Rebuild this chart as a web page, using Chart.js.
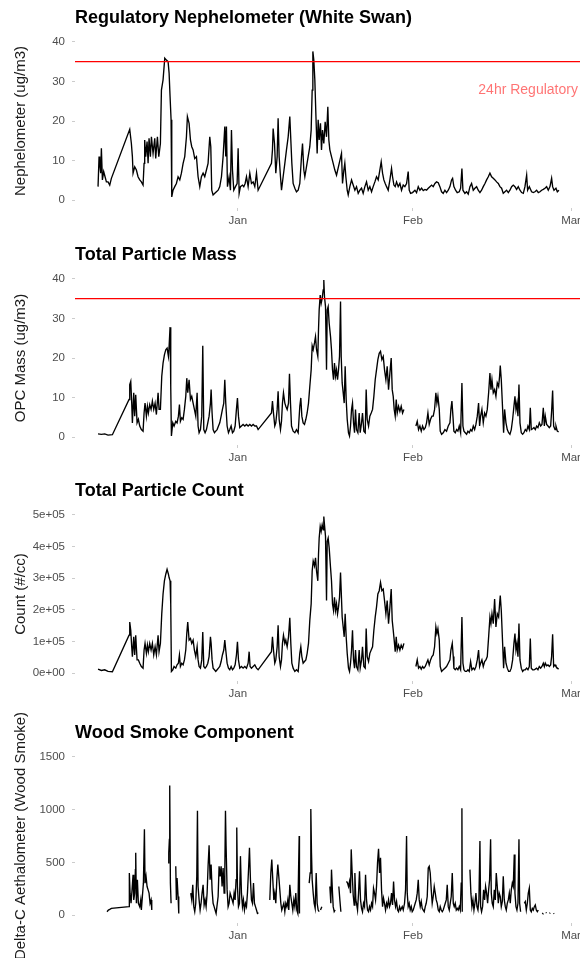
<!DOCTYPE html>
<html>
<head>
<meta charset="utf-8">
<script src="https://cdn.jsdelivr.net/npm/chart.js@4.4.1/dist/chart.umd.min.js"></script>
<style>
  html, body { margin: 0; padding: 0; background: #fff; overflow: hidden; width: 580px; height: 958px; }
  canvas { position: absolute; left: 0; }
</style>
</head>
<body>
<canvas id="neph" width="600" height="238" style="top:0px"></canvas>
<canvas id="mass" width="600" height="238" style="top:237px"></canvas>
<canvas id="count" width="600" height="238" style="top:473px"></canvas>
<canvas id="wood" width="600" height="258" style="top:700px"></canvas>
<script>
// days are counted from 1 Jan (0 = Jan 1)
const monthTicks = [0, 31, 59];
const monthLabels = ['Jan', 'Feb', 'Mar'];
const pmTicks = [0, 10, 20, 30, 40];
const countTicks = [0, 100000, 200000, 300000, 400000, 500000];
const woodTicks = [0, 500, 1000, 1500];
const regulatoryLimit = 35;
const limitNote = { day: 51.4, value: 27.8, text: '24hr Regulatory' };

const nephelometer = [[-24.74,3.4],[-24.56,11.0],[-24.45,9.3],[-24.27,6.8],[-24.15,13.1],[-23.97,5.1],[-23.74,7.2],[-23.50,5.9],[-23.26,4.6],[-22.97,4.6],[-22.67,3.8],[-22.38,5.5],[-19.13,17.9],[-18.84,14.3],[-18.66,11.0],[-18.54,6.8],[-18.25,8.4],[-17.95,7.6],[-17.66,5.9],[-17.36,5.1],[-17.07,4.6],[-16.77,3.8],[-16.59,9.3],[-16.48,15.2],[-16.30,11.0],[-16.06,14.8],[-15.88,9.3],[-15.71,15.6],[-15.47,11.0],[-15.29,16.0],[-15.00,11.8],[-14.70,15.6],[-14.53,10.5],[-14.23,16.0],[-13.99,11.0],[-13.70,14.3],[-13.52,27.8],[-13.23,30.4],[-12.93,35.9],[-12.64,35.4],[-12.34,35.0],[-12.16,32.1],[-11.99,26.2],[-11.81,20.3],[-11.69,0.8],[-11.46,2.5],[-11.16,3.4],[-10.87,4.2],[-10.57,5.9],[-10.27,5.1],[-9.98,6.8],[-9.68,9.3],[-9.39,11.0],[-9.09,16.0],[-8.92,21.1],[-8.62,19.4],[-8.38,15.2],[-8.15,13.5],[-7.91,12.7],[-7.62,10.5],[-7.32,11.0],[-7.03,5.9],[-6.73,3.4],[-6.44,5.9],[-6.14,6.8],[-5.85,5.9],[-5.55,7.6],[-5.26,9.3],[-4.96,16.0],[-4.78,13.5],[-4.61,2.5],[-4.37,1.3],[-4.07,1.7],[-3.78,2.1],[-3.48,2.5],[-3.19,3.4],[-2.89,5.9],[-2.60,11.0],[-2.30,18.6],[-2.13,11.0],[-2.01,18.6],[-1.83,3.4],[-1.54,5.9],[-1.30,2.5],[-1.12,17.7],[-0.94,7.6],[-0.71,2.5],[-0.41,3.4],[-0.12,4.2],[0.06,13.1],[0.24,1.7],[0.47,3.4],[0.83,3.8],[1.06,3.4],[1.30,4.2],[1.54,5.9],[1.83,3.4],[2.13,6.8],[2.42,4.2],[2.72,4.6],[3.01,3.4],[3.31,6.8],[3.60,2.5],[5.96,9.3],[6.14,12.7],[6.26,18.1],[6.50,14.3],[6.73,6.8],[6.97,11.0],[7.14,20.7],[7.32,11.0],[7.56,5.9],[7.74,2.5],[8.03,5.9],[8.33,9.3],[8.62,12.7],[8.92,16.0],[9.21,21.1],[9.39,15.2],[9.57,9.3],[9.80,4.2],[10.10,3.0],[10.39,2.1],[10.69,2.5],[10.98,4.2],[11.28,11.0],[11.46,14.3],[11.69,7.6],[11.87,5.9],[12.16,8.4],[12.46,11.0],[12.75,13.5],[12.99,17.7],[13.17,27.8],[13.29,37.6],[13.46,35.4],[13.64,30.4],[13.82,21.9],[14.05,11.8],[14.23,20.3],[14.41,15.2],[14.64,19.4],[14.82,12.7],[15.00,17.7],[15.23,14.3],[15.47,19.8],[15.71,16.0],[15.94,23.6],[16.12,15.2],[16.30,12.7],[16.59,11.0],[16.89,9.3],[17.18,7.6],[17.48,6.3],[18.36,11.8],[18.54,4.2],[18.78,7.6],[18.95,9.3],[19.13,5.9],[19.37,2.5],[19.55,1.3],[19.84,3.4],[20.14,5.1],[20.43,3.8],[20.73,2.5],[21.02,3.4],[21.32,1.7],[21.61,2.5],[21.91,3.0],[22.20,1.7],[22.50,3.4],[22.79,4.6],[23.09,2.5],[23.38,3.4],[23.68,2.1],[23.97,3.4],[24.27,4.6],[24.56,5.9],[24.86,5.1],[25.15,7.6],[25.39,9.7],[25.63,6.8],[25.86,5.1],[26.10,4.2],[26.34,3.4],[26.63,2.5],[26.93,5.1],[27.22,8.0],[27.40,5.9],[27.64,3.8],[27.87,3.4],[28.11,4.6],[28.40,3.4],[28.70,4.2],[28.99,2.5],[29.29,3.8],[29.58,3.4],[29.88,4.2],[30.17,7.2],[30.35,2.5],[30.59,1.7],[30.94,1.9],[31.36,2.5],[31.65,1.9],[31.95,3.4],[32.24,2.5],[32.54,3.0],[32.83,2.4],[33.13,2.7],[33.42,2.5],[33.72,3.0],[34.01,3.4],[34.31,3.8],[34.60,3.4],[34.90,4.2],[35.19,4.6],[35.49,4.4],[35.78,3.4],[36.08,2.1],[36.37,1.7],[36.67,2.5],[36.96,1.9],[37.26,2.5],[37.56,3.4],[37.85,5.1],[38.03,5.5],[38.26,3.4],[38.56,2.5],[38.85,1.9],[39.21,2.1],[39.45,3.0],[39.68,8.0],[39.86,2.5],[40.21,1.7],[40.51,2.1],[40.80,1.5],[41.10,3.4],[41.39,4.2],[41.69,2.5],[41.98,3.0],[42.28,3.4],[42.57,2.5],[42.87,1.9],[43.16,2.5],[43.46,3.4],[43.76,4.2],[44.05,5.1],[44.35,5.9],[44.64,6.8],[44.94,5.9],[45.23,5.5],[45.53,5.1],[45.82,4.6],[46.12,4.2],[46.41,3.4],[46.71,3.0],[47.00,1.7],[47.30,2.1],[47.59,2.5],[47.89,1.9],[48.18,2.5],[48.48,3.4],[48.77,3.8],[49.07,3.4],[49.36,2.7],[49.66,3.4],[49.96,2.5],[50.25,1.9],[50.55,1.7],[50.84,3.4],[51.14,6.3],[51.31,2.5],[51.61,3.4],[52.02,2.1],[52.32,1.9],[52.61,2.1],[52.91,2.5],[53.20,1.9],[53.50,2.1],[53.79,2.5],[54.09,2.7],[54.38,3.0],[54.68,3.4],[54.97,2.5],[55.27,3.4],[55.56,5.5],[55.74,3.4],[55.98,2.5],[56.33,3.0],[56.57,2.1],[56.86,2.5]];

const opcMass = [[-24.74,0.8],[-24.15,0.7],[-23.56,0.8],[-22.97,0.5],[-22.20,0.6],[-19.25,9.5],[-19.13,13.3],[-18.95,14.1],[-18.78,8.6],[-18.66,3.6],[-18.42,11.2],[-18.25,5.3],[-18.07,10.7],[-17.83,3.6],[-17.60,4.5],[-17.36,2.8],[-17.07,1.9],[-16.77,1.5],[-16.59,6.1],[-16.42,8.6],[-16.18,5.3],[-16.00,7.8],[-15.83,6.1],[-15.59,8.2],[-15.35,7.0],[-15.12,9.1],[-14.88,7.0],[-14.64,8.6],[-14.41,5.7],[-14.11,11.2],[-13.94,7.0],[-13.70,7.0],[-13.46,15.4],[-13.23,18.7],[-12.99,20.8],[-12.75,22.1],[-12.52,22.5],[-12.28,20.4],[-12.16,22.9],[-11.99,27.8],[-11.87,12.8],[-11.75,0.3],[-11.51,3.6],[-11.28,2.8],[-10.98,4.0],[-10.75,3.6],[-10.51,5.3],[-10.33,8.2],[-10.16,4.0],[-9.92,4.9],[-9.68,4.5],[-9.45,7.0],[-9.21,10.3],[-9.03,14.9],[-8.86,11.2],[-8.62,14.5],[-8.38,9.5],[-8.15,10.3],[-7.91,8.6],[-7.68,7.0],[-7.44,5.3],[-7.20,11.2],[-7.03,2.8],[-6.85,1.1],[-6.61,1.9],[-6.38,5.3],[-6.20,23.1],[-6.02,1.9],[-5.79,1.1],[-5.55,1.9],[-5.31,3.6],[-5.08,5.3],[-4.84,8.6],[-4.72,12.0],[-4.55,6.1],[-4.37,1.9],[-4.13,1.1],[-3.90,1.5],[-3.66,1.9],[-3.42,2.8],[-3.19,3.6],[-2.95,5.3],[-2.72,7.0],[-2.48,8.6],[-2.30,14.5],[-2.13,8.6],[-1.89,2.8],[-1.65,1.1],[-1.42,1.9],[-1.18,2.8],[-0.94,1.1],[-0.71,1.5],[-0.47,2.8],[-0.24,7.0],[-0.06,9.9],[0.12,5.3],[0.35,2.4],[0.65,2.8],[0.94,3.2],[1.24,2.8],[1.54,3.2],[1.83,2.8],[2.13,3.2],[2.42,2.8],[2.72,3.2],[3.01,2.8],[3.31,2.8],[3.60,1.9],[5.96,6.1],[6.14,9.1],[6.32,6.1],[6.55,2.8],[6.73,3.6],[6.97,7.0],[7.14,11.6],[7.32,4.5],[7.56,1.9],[7.74,4.0],[7.91,8.6],[8.09,11.2],[8.33,8.6],[8.50,7.8],[8.74,7.0],[8.98,8.6],[9.15,16.0],[9.33,8.6],[9.51,2.8],[9.80,1.5],[10.10,1.1],[10.39,1.9],[10.69,1.1],[10.98,7.8],[11.16,9.9],[11.34,5.3],[11.57,3.6],[11.81,3.2],[12.05,4.5],[12.28,6.1],[12.52,8.6],[12.75,12.8],[12.99,17.0],[13.17,23.1],[13.35,22.1],[13.58,23.8],[13.76,25.4],[13.94,22.1],[14.17,20.4],[14.29,27.1],[14.41,32.2],[14.59,35.9],[14.76,33.8],[14.94,35.1],[15.12,37.2],[15.23,39.7],[15.35,35.5],[15.53,33.0],[15.71,17.0],[15.83,32.2],[16.00,33.0],[16.18,28.8],[16.42,25.4],[16.59,22.1],[16.77,17.0],[16.95,14.5],[17.12,18.7],[17.30,15.4],[17.48,17.0],[17.66,14.5],[17.83,17.0],[18.01,20.4],[18.19,34.3],[18.31,20.4],[18.48,13.7],[18.66,11.2],[18.84,8.6],[19.01,17.9],[19.19,9.5],[19.37,4.5],[19.60,1.1],[19.78,0.3],[19.96,2.8],[20.14,7.0],[20.31,8.6],[20.49,3.6],[20.67,1.1],[20.84,7.0],[21.02,1.9],[21.26,1.1],[21.49,6.1],[21.67,1.1],[21.91,3.6],[22.08,6.1],[22.32,1.5],[22.56,1.1],[22.73,12.0],[22.91,4.5],[23.15,2.8],[23.38,5.3],[23.62,6.1],[23.86,7.0],[24.09,10.3],[24.33,14.5],[24.56,17.0],[24.80,19.6],[25.04,21.2],[25.27,21.7],[25.51,19.6],[25.75,20.4],[25.98,17.0],[26.22,14.5],[26.45,17.9],[26.69,12.0],[26.93,16.2],[27.16,20.0],[27.34,12.0],[27.52,10.3],[27.69,7.0],[27.87,5.3],[28.05,9.5],[28.23,6.1],[28.46,7.8],[28.70,6.5],[28.93,7.8],[29.17,6.1],[29.41,7.0],[30.40,null],[31.53,2.8],[31.77,4.0],[32.00,1.9],[32.24,2.8],[32.48,1.5],[32.71,2.8],[32.95,1.9],[33.19,2.4],[33.42,3.6],[33.66,6.1],[33.89,3.2],[34.13,4.5],[34.37,5.3],[34.60,5.3],[34.84,7.0],[35.07,11.2],[35.25,8.6],[35.43,10.3],[35.67,7.0],[35.84,1.5],[36.08,0.7],[36.37,1.1],[36.67,1.9],[36.96,1.5],[37.26,2.8],[37.56,3.6],[37.73,7.0],[37.91,9.1],[38.09,5.3],[38.26,1.5],[38.50,1.1],[38.74,1.9],[38.97,1.5],[39.21,2.8],[39.45,1.1],[39.68,13.7],[39.86,2.8],[40.04,1.5],[40.27,1.1],[40.51,0.7],[40.74,1.5],[40.98,1.1],[41.22,1.9],[41.45,1.5],[41.69,2.8],[41.93,1.9],[42.16,3.2],[42.40,5.3],[42.63,8.6],[42.81,2.8],[42.99,5.3],[43.22,7.0],[43.46,3.6],[43.70,6.1],[43.93,5.3],[44.17,7.0],[44.41,11.2],[44.64,16.2],[44.82,12.0],[45.00,14.5],[45.23,11.2],[45.47,12.0],[45.70,10.3],[45.94,13.7],[46.18,12.8],[46.35,15.4],[46.47,18.1],[46.65,14.5],[46.89,7.0],[47.06,1.1],[47.24,7.0],[47.48,3.6],[47.71,1.9],[47.95,1.1],[48.18,0.7],[48.42,1.9],[48.66,4.5],[48.89,7.8],[49.07,10.3],[49.25,7.0],[49.42,8.6],[49.60,5.3],[49.78,13.3],[49.96,3.6],[50.19,1.1],[50.43,0.7],[50.66,1.1],[50.90,1.9],[51.14,1.5],[51.37,2.8],[51.61,1.9],[51.79,7.4],[51.96,1.9],[52.20,2.1],[52.44,2.4],[52.67,1.9],[52.91,2.8],[53.14,2.4],[53.38,3.6],[53.62,2.8],[53.85,3.2],[54.09,7.4],[54.27,2.8],[54.44,5.3],[54.68,3.2],[54.92,2.8],[55.15,2.4],[55.39,2.8],[55.56,6.5],[55.74,11.8],[55.92,2.8],[56.16,1.9],[56.33,2.8],[56.57,1.5],[56.80,1.3]];

const particleCount = [[-24.74,12500],[-24.15,8300],[-23.56,10400],[-22.97,5200],[-22.20,4200],[-19.25,119800],[-19.13,161500],[-18.95,135400],[-18.78,83300],[-18.66,52100],[-18.42,114600],[-18.25,57300],[-18.07,119800],[-17.83,41700],[-17.60,41700],[-17.36,31300],[-17.07,20800],[-16.77,15600],[-16.59,72900],[-16.42,93800],[-16.18,62500],[-16.00,88500],[-15.83,67700],[-15.59,93800],[-15.35,72900],[-15.12,93800],[-14.88,57300],[-14.64,83300],[-14.41,57300],[-14.11,119800],[-13.94,67700],[-13.70,93800],[-13.46,187500],[-13.23,250000],[-12.99,291700],[-12.75,312500],[-12.52,328100],[-12.28,312500],[-12.16,302100],[-11.99,291700],[-11.87,218800],[-11.75,5200],[-11.51,10400],[-11.28,20800],[-10.98,15600],[-10.75,26000],[-10.51,31300],[-10.33,57300],[-10.16,20800],[-9.92,31300],[-9.68,26000],[-9.45,41700],[-9.21,72900],[-9.03,125000],[-8.86,161500],[-8.62,104200],[-8.38,109400],[-8.15,93800],[-7.91,104200],[-7.68,72900],[-7.44,52100],[-7.20,83300],[-7.03,41700],[-6.85,20800],[-6.61,15600],[-6.38,41700],[-6.20,130200],[-6.02,20800],[-5.79,15600],[-5.55,20800],[-5.31,31300],[-5.08,52100],[-4.84,114600],[-4.72,93800],[-4.55,41700],[-4.37,15600],[-4.13,10400],[-3.90,5200],[-3.66,10400],[-3.42,15600],[-3.19,20800],[-2.95,36500],[-2.72,57300],[-2.48,72900],[-2.30,104200],[-2.13,72900],[-1.89,31300],[-1.65,15600],[-1.42,10400],[-1.18,20800],[-0.94,10400],[-0.71,15600],[-0.47,26000],[-0.24,57300],[-0.06,99000],[0.12,41700],[0.35,15600],[0.65,20800],[0.94,15600],[1.24,20800],[1.54,15600],[1.83,31300],[2.01,67700],[2.18,20800],[2.42,15600],[2.72,20800],[3.01,26000],[3.31,15600],[3.60,10400],[5.96,67700],[6.14,114600],[6.32,72900],[6.55,31300],[6.73,41700],[6.97,83300],[7.14,151000],[7.32,52100],[7.56,20800],[7.74,41700],[7.91,93800],[8.09,119800],[8.33,93800],[8.50,104200],[8.74,83300],[8.98,114600],[9.21,175000],[9.39,93800],[9.57,31300],[9.80,15600],[10.10,5200],[10.39,10400],[10.69,5200],[10.98,62500],[11.16,83300],[11.34,52100],[11.57,31300],[11.81,36500],[12.05,41700],[12.28,62500],[12.52,93800],[12.75,166700],[12.99,218800],[13.17,322900],[13.35,354200],[13.58,338500],[13.76,364600],[13.94,322900],[14.17,291700],[14.29,375000],[14.41,427100],[14.59,463500],[14.76,447900],[14.94,468800],[15.12,453100],[15.23,494800],[15.35,468800],[15.53,432300],[15.71,229200],[15.83,416700],[16.00,427100],[16.18,395800],[16.42,333300],[16.59,291700],[16.77,218800],[16.95,197900],[17.12,239600],[17.30,197900],[17.48,218800],[17.66,187500],[17.83,208300],[18.01,239600],[18.19,317700],[18.31,260400],[18.48,177100],[18.66,145800],[18.84,114600],[19.01,187500],[19.19,114600],[19.37,62500],[19.60,15600],[19.78,5200],[19.96,31300],[20.14,72900],[20.31,135400],[20.49,41700],[20.67,15600],[20.84,72900],[21.02,20800],[21.26,10400],[21.49,72900],[21.67,15600],[21.91,41700],[22.08,83300],[22.32,20800],[22.56,15600],[22.73,140600],[22.91,52100],[23.15,36500],[23.38,62500],[23.62,72900],[23.86,83300],[24.09,135400],[24.33,177100],[24.56,208300],[24.80,250000],[25.04,260400],[25.27,286500],[25.51,260400],[25.75,265600],[25.98,229200],[26.22,187500],[26.45,229200],[26.69,156300],[26.93,208300],[27.16,265600],[27.34,166700],[27.52,135400],[27.69,104200],[27.87,67700],[28.05,114600],[28.23,72900],[28.46,88500],[28.70,72900],[28.93,88500],[29.17,78100],[29.41,93800],[30.40,null],[31.53,20800],[31.77,41700],[32.00,15600],[32.24,20800],[32.48,12500],[32.71,20800],[32.95,15600],[33.19,20800],[33.42,31300],[33.66,41700],[33.89,26000],[34.13,41700],[34.37,52100],[34.60,57300],[34.84,83300],[35.07,145800],[35.25,125000],[35.43,140600],[35.67,104200],[35.84,20800],[36.08,5200],[36.37,10400],[36.67,15600],[36.96,20800],[37.26,31300],[37.56,41700],[37.73,72900],[37.97,93800],[38.15,52100],[38.26,15600],[38.50,10400],[38.74,15600],[38.97,10400],[39.21,20800],[39.45,10400],[39.68,177100],[39.86,31300],[40.04,10400],[40.27,5200],[40.51,5200],[40.74,10400],[40.98,5200],[41.22,36500],[41.45,10400],[41.69,15600],[41.93,10400],[42.16,20800],[42.40,41700],[42.63,72900],[42.81,20800],[42.99,31300],[43.22,41700],[43.46,20800],[43.70,36500],[43.93,41700],[44.17,52100],[44.41,114600],[44.64,177100],[44.82,156300],[45.00,187500],[45.23,156300],[45.47,234400],[45.70,145800],[45.94,187500],[46.18,177100],[46.35,218800],[46.47,244800],[46.65,197900],[46.89,93800],[47.06,15600],[47.24,83300],[47.48,31300],[47.71,15600],[47.95,5200],[48.18,5200],[48.42,15600],[48.66,41700],[48.89,93800],[49.07,125000],[49.25,72900],[49.42,93800],[49.60,52100],[49.78,156300],[49.96,41700],[50.19,15600],[50.43,5200],[50.66,10400],[50.90,10400],[51.14,15600],[51.37,10400],[51.61,20800],[51.79,109400],[51.96,15600],[52.20,10400],[52.44,10400],[52.67,12500],[52.91,15600],[53.14,10400],[53.38,20800],[53.62,15600],[53.85,20800],[54.09,31300],[54.27,20800],[54.44,31300],[54.68,22900],[54.92,26000],[55.15,20800],[55.39,26000],[55.56,52100],[55.74,122900],[55.92,20800],[56.16,26000],[56.33,20800],[56.57,15600],[56.80,12500]];

const woodSmoke = [[-23.15,32],[-22.91,48],[-22.67,54],[-22.38,64],[-19.25,80],[-19.20,399],[-19.07,208],[-18.90,112],[-18.72,239],[-18.54,383],[-18.42,144],[-18.25,208],[-18.13,431],[-18.07,591],[-17.95,112],[-17.77,335],[-17.60,112],[-17.36,80],[-17.18,144],[-17.07,48],[-16.89,176],[-16.71,303],[-16.53,814],[-16.42,303],[-16.24,367],[-16.06,271],[-15.88,239],[-15.71,208],[-15.53,112],[-15.35,144],[-15.23,48],[-13.8,null],[-12.34,495],[-12.22,591],[-12.11,718],[-12.05,1229],[-11.93,303],[-11.81,112],[-11.4,null],[-10.98,463],[-10.87,144],[-10.75,351],[-10.57,176],[-10.45,16],[-9.4,null],[-8.33,208],[-8.15,144],[-7.97,287],[-7.79,80],[-7.62,32],[-7.44,112],[-7.26,367],[-7.14,990],[-7.03,271],[-6.85,144],[-6.67,48],[-6.50,112],[-6.32,208],[-6.14,287],[-5.96,96],[-5.79,144],[-5.61,80],[-5.43,208],[-5.26,463],[-5.08,661],[-4.90,335],[-4.72,479],[-4.55,239],[-4.37,112],[-4.19,80],[-4.02,48],[-3.84,16],[-3.48,176],[-3.31,463],[-3.13,367],[-2.95,463],[-2.78,271],[-2.60,447],[-2.42,208],[-2.30,399],[-2.18,990],[-2.07,655],[-1.89,239],[-1.71,80],[-1.54,112],[-1.36,208],[-1.18,176],[-1.00,144],[-0.83,112],[-0.65,208],[-0.47,144],[-0.30,335],[-0.18,830],[-0.06,271],[0.12,80],[0.30,112],[0.47,559],[0.65,208],[0.83,80],[1.00,144],[1.18,48],[1.36,112],[1.54,80],[1.71,208],[1.89,415],[2.07,639],[2.24,335],[2.42,144],[2.60,112],[2.78,303],[2.95,112],[3.13,80],[3.31,48],[3.48,16],[3.66,22],[4.6,null],[5.67,144],[5.85,399],[6.02,527],[6.20,335],[6.38,144],[6.55,208],[6.73,112],[6.91,335],[7.09,479],[7.26,367],[7.44,239],[7.62,112],[7.79,48],[7.97,80],[8.15,112],[8.33,32],[8.50,112],[8.68,80],[8.86,144],[9.03,48],[9.21,287],[9.39,176],[9.57,112],[9.74,48],[9.92,144],[10.10,80],[10.27,208],[10.45,48],[10.63,16],[10.75,399],[10.87,750],[10.92,16],[11.8,null],[12.64,303],[12.81,399],[12.93,1006],[13.05,591],[13.17,335],[13.35,208],[13.52,112],[13.70,64],[13.88,399],[14.05,112],[14.23,48],[14.41,32],[14.52,null],[14.64,48],[14.88,80],[15.6,null],[16.30,271],[16.47,112],[16.59,431],[16.77,208],[16.89,80],[17.07,32],[17.24,48],[17.55,null],[17.89,271],[18.07,144],[18.25,32],[18.7,null],[19.25,319],[19.43,303],[19.60,271],[19.78,319],[19.96,208],[20.08,623],[20.25,399],[20.43,192],[20.61,96],[20.73,399],[20.90,144],[21.02,112],[21.20,48],[21.38,208],[21.55,415],[21.73,144],[21.91,64],[22.08,32],[22.26,112],[22.44,80],[22.62,383],[22.79,144],[22.97,48],[23.15,32],[23.32,80],[23.50,48],[23.68,112],[23.86,80],[24.03,255],[24.21,208],[24.39,144],[24.56,271],[24.74,495],[24.92,629],[25.10,399],[25.27,543],[25.45,239],[25.63,80],[25.80,160],[25.98,112],[26.16,48],[26.34,112],[26.51,80],[26.69,144],[26.87,80],[27.04,112],[27.22,208],[27.40,96],[27.58,319],[27.75,144],[27.93,80],[28.11,128],[28.29,48],[28.46,32],[28.64,80],[28.82,48],[29.11,80],[29.29,48],[29.52,112],[29.70,239],[29.88,750],[30.00,208],[30.17,80],[30.35,112],[30.53,48],[30.71,80],[30.88,32],[31.06,48],[31.24,80],[31.41,112],[31.59,144],[31.77,208],[31.95,335],[32.12,144],[32.30,80],[32.48,128],[32.65,64],[32.83,48],[33.01,32],[33.19,80],[33.36,112],[33.54,176],[33.72,447],[33.89,463],[34.07,399],[34.25,239],[34.42,112],[34.60,176],[34.78,271],[34.96,208],[35.13,144],[35.31,112],[35.49,48],[35.67,32],[35.84,80],[36.02,48],[36.20,32],[36.37,48],[36.55,80],[36.73,112],[36.91,144],[37.08,287],[37.26,80],[37.44,48],[37.61,112],[37.79,176],[37.97,399],[38.15,112],[38.32,80],[38.50,112],[38.68,48],[38.85,64],[39.03,48],[39.21,80],[39.39,48],[39.56,303],[39.68,1012],[39.74,32],[40.4,null],[41.10,431],[41.27,208],[41.45,80],[41.63,144],[41.81,48],[41.98,112],[42.16,208],[42.34,80],[42.52,48],[42.69,144],[42.87,702],[42.99,80],[43.16,32],[43.34,80],[43.52,239],[43.70,144],[43.87,271],[44.05,208],[44.23,112],[44.41,239],[44.58,335],[44.76,718],[44.88,208],[45.05,112],[45.23,80],[45.41,239],[45.59,144],[45.76,399],[45.94,271],[46.12,112],[46.29,208],[46.47,176],[46.65,80],[46.83,128],[47.00,367],[47.18,144],[47.36,80],[47.53,48],[47.71,112],[47.89,144],[48.07,208],[48.24,112],[48.42,239],[48.60,303],[48.77,271],[48.95,575],[49.07,208],[49.25,80],[49.42,48],[49.60,112],[49.78,718],[49.90,112],[50.07,32],[50.4,null],[50.72,112],[50.90,128],[51.08,48],[51.26,112],[51.43,208],[51.61,255],[51.79,48],[51.96,32],[52.14,64],[52.32,48],[52.50,80],[52.67,96],[52.85,48],[53.03,32],[53.20,48],[53.5,null],[53.90,20],[54.00,15],[54.2,null],[54.55,25],[54.65,18],[54.9,null],[55.20,15],[55.30,22],[55.6,null],[55.90,18],[56.00,12]];

const family = '"Liberation Sans", Arial, sans-serif';
Chart.defaults.font.family = family;

// x limits: data range plus 5% on each side
const firstDay = nephelometer[0][0];
const lastDay = nephelometer[nephelometer.length - 1][0];
const xPad = (lastDay - firstDay) * 0.05;
const xMin = firstDay - xPad;
const xMax = lastDay + xPad;

function sciLabel(v) {
  const parts = v.toExponential(0).split('e');
  const sign = parts[1][0];
  return parts[0] + 'e' + sign + parts[1].slice(1).padStart(2, '0');
}

const sideText = {
  id: 'sideText',
  afterDraw(chart, args, opts) {
    const ctx = chart.ctx;
    const area = chart.chartArea;
    ctx.save();
    ctx.font = '15px ' + family;
    ctx.fillStyle = '#1a1a1a';
    ctx.textAlign = 'center';
    ctx.textBaseline = 'middle';
    ctx.translate(21, (area.top + area.bottom) / 2);
    ctx.rotate(-Math.PI / 2);
    ctx.fillText(opts.yTitle, 0, 0);
    ctx.restore();
    if (opts.note) {
      ctx.save();
      ctx.font = '14px ' + family;
      ctx.fillStyle = 'rgba(255, 0, 0, 0.55)';
      ctx.textAlign = 'center';
      ctx.textBaseline = 'middle';
      ctx.fillText(opts.note.text, chart.scales.x.getPixelForValue(opts.note.day), chart.scales.y.getPixelForValue(opts.note.value));
      ctx.restore();
    }
  }
};

function drawPanel(id, cfg) {
  const datasets = [];
  if (cfg.limit !== undefined) {
    datasets.push({
      data: [{ x: xMin, y: cfg.limit }, { x: xMax, y: cfg.limit }],
      borderColor: '#ff0000',
      borderWidth: 1.3,
      pointRadius: 0
    });
  }
  datasets.push({
    data: cfg.series.map(p => ({ x: p[0], y: p[1] })),
    borderColor: '#000000',
    borderWidth: 1.35,
    pointRadius: 0,
    tension: 0,
    spanGaps: false
  });
  const yTop = cfg.yTicks[cfg.yTicks.length - 1];
  const yPad = yTop * 0.05;

  new Chart(document.getElementById(id), {
    type: 'line',
    data: { datasets },
    options: {
      responsive: false,
      animation: false,
      devicePixelRatio: 1,
      layout: { padding: { top: cfg.padTop || 0, right: 18, bottom: cfg.padBottom || 0, left: 0 } },
      plugins: {
        legend: { display: false },
        tooltip: { enabled: false },
        title: {
          display: true,
          text: cfg.title,
          align: 'start',
          fullSize: false,
          color: '#000',
          font: { size: 18, weight: 'bold', family },
          padding: { top: 7, bottom: 5.4 }
        },
        sideText: { yTitle: cfg.yTitle, note: cfg.note }
      },
      scales: {
        x: {
          type: 'linear',
          min: xMin,
          max: xMax,
          afterBuildTicks: s => { s.ticks = monthTicks.map(v => ({ value: v })); },
          afterFit: s => { s.height = 30; },
          ticks: {
            autoSkip: false,
            maxRotation: 0,
            padding: 3,
            color: '#4d4d4d',
            font: { size: 11.5, family },
            callback: v => monthLabels[monthTicks.indexOf(v)]
          },
          grid: { drawOnChartArea: false, drawTicks: true, tickLength: 3, tickColor: '#cccccc', color: '#cccccc' },
          border: { display: false }
        },
        y: {
          type: 'linear',
          min: -yPad,
          max: yTop + yPad,
          afterBuildTicks: s => { s.ticks = cfg.yTicks.map(v => ({ value: v })); },
          afterFit: s => { s.width = 75; },
          ticks: {
            padding: 7,
            color: '#4d4d4d',
            font: { size: 11.5, family },
            callback: cfg.yLabel
          },
          grid: { drawOnChartArea: false, drawTicks: true, tickLength: 3, tickColor: '#cccccc', color: '#cccccc' },
          border: { display: false }
        }
      }
    },
    plugins: [sideText]
  });
}

drawPanel('neph', {
  title: 'Regulatory Nephelometer (White Swan)',
  yTitle: 'Nephelometer (ug/m3)',
  series: nephelometer,
  yTicks: pmTicks,
  yLabel: v => String(v),
  limit: regulatoryLimit,
  note: limitNote
});
drawPanel('mass', {
  title: 'Total Particle Mass',
  yTitle: 'OPC Mass (ug/m3)',
  series: opcMass,
  yTicks: pmTicks,
  yLabel: v => String(v),
  limit: regulatoryLimit
});
drawPanel('count', {
  title: 'Total Particle Count',
  yTitle: 'Count (#/cc)',
  series: particleCount,
  yTicks: countTicks,
  yLabel: sciLabel
});
drawPanel('wood', {
  title: 'Wood Smoke Component',
  yTitle: 'Delta-C Aethalometer (Wood Smoke)',
  series: woodSmoke,
  yTicks: woodTicks,
  yLabel: v => String(v),
  padTop: 15,
  padBottom: 5
});
</script>
</body>
</html>
